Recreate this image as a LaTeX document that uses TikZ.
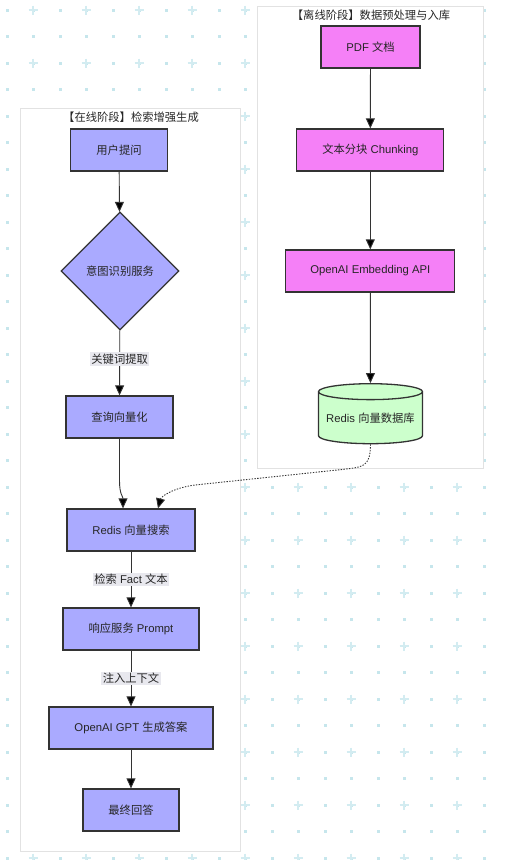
\documentclass[tikz,border=0pt]{standalone}
\usepackage{fontspec}
\setmainfont{Liberation Sans}
\newfontfamily\cjk{Noto Sans CJK SC}
\usetikzlibrary{shapes.geometric,arrows.meta}
\newcommand\zhs[1]{{\cjk #1}}
\definecolor{pur}{HTML}{AAAAFF}
\definecolor{mag}{HTML}{F580F7}
\definecolor{grn}{HTML}{CCFFCC}
\definecolor{edgec}{HTML}{333333}
\definecolor{pat}{HTML}{D3ECF1}
\definecolor{patdot}{HTML}{C6E6EC}
\definecolor{clus}{HTML}{E2E2E2}
\definecolor{lbl}{HTML}{E8E8EE}
\tikzset{
  basefont/.style={font=\fontsize{11.3}{13}\selectfont},
  boxbase/.style={basefont, draw=edgec, line width=1.3pt, minimum height=42pt, inner sep=0pt, text=black!85},
  pbox/.style={boxbase, rectangle, fill=pur},
  mbox/.style={boxbase, rectangle, fill=mag},
  pdia/.style={boxbase, diamond, fill=pur, minimum width=118pt, minimum height=118pt},
  dbshape/.style={boxbase, cylinder, shape border rotate=90, aspect=0.18, fill=grn, minimum width=104pt, minimum height=60pt},
  clusbox/.style={draw=clus, line width=0.8pt, fill=white, inner sep=0pt},
  ctitle/.style={basefont, inner sep=0pt, text=black!85},
  lab/.style={basefont, fill=lbl, inner sep=1.5pt, text=black!85},
  arr/.style={draw=edgec, line width=0.9pt, -{Triangle[length=10pt,width=9pt,fill=black]}},
  dotarr/.style={arr, dash pattern=on 1.4pt off 1.4pt}
}
\begin{document}
\begin{tikzpicture}[x=1pt,y=-1pt]
\useasboundingbox (0,0) rectangle (505,860);
\fill[white] (0,0) rectangle (505,860);
% background pattern
\foreach \i in {0,...,19}{\foreach \j in {0,...,32}{
  \fill[patdot] ({7+26.5*\i-1.5},{10+26.5*\j-1.5}) rectangle ++(3,3);}}
\foreach \m in {0,...,8}{\foreach \k in {0,...,16}{
  \draw[pat, line width=2pt] ({33+53*\m-4.5},{10+53*\k}) -- ++(9,0)
       ({33+53*\m},{10+53*\k-4.5}) -- ++(0,9);}}
% clusters
\node[clusbox, minimum width=226pt, minimum height=462pt] (offline) at (370,237) {};
\node[clusbox, minimum width=220.7pt, minimum height=743pt] (online) at (130.3,479.5) {};
\node[ctitle] (offt) at (371,15.5) {\zhs{【离线阶段】数据预处理与入库}};
\node[ctitle] (ont) at (131,117) {\zhs{【在线阶段】检索增强生成}};
% online nodes
\node[pbox, minimum width=97pt] (ask) at (119,150) {\zhs{用户提问}};
\node[pdia] (intent) at (120,271) {\zhs{意图识别服务}};
\node[pbox, minimum width=107pt] (vec) at (119.5,417) {\zhs{查询向量化}};
\node[pbox, minimum width=128pt] (search) at (131,530) {Redis \zhs{向量搜索}};
\node[pbox, minimum width=136pt] (prompt) at (131,629) {\zhs{响应服务} Prompt};
\node[pbox, minimum width=164pt] (gpt) at (131,728) {OpenAI GPT \zhs{生成答案}};
\node[pbox, minimum width=96pt] (ans) at (131,810) {\zhs{最终回答}};
% offline nodes
\node[mbox, minimum width=99pt] (pdf) at (370.5,47) {PDF \zhs{文档}};
\node[mbox, minimum width=147pt] (chunk) at (370.3,150) {\zhs{文本分块} Chunking};
\node[mbox, minimum width=169pt] (emb) at (370.3,271) {OpenAI Embedding API};
\node[dbshape] (db) at (370.5,418) {Redis \zhs{向量数据库}};
% edges
\draw[arr] (ask) -- (intent);
\draw[arr] (intent) -- node[lab, pos=0.44]{\zhs{关键词提取}} (vec);
\draw[arr] (vec.south) -- ++(0,42) .. controls ++(0,14) and ++(0,-12) .. ([xshift=-8pt]search.north);
\draw[arr] (search) -- node[lab]{\zhs{检索} Fact \zhs{文本}} (prompt);
\draw[arr] (prompt) -- node[lab]{\zhs{注入上下文}} (gpt);
\draw[arr] (gpt) -- (ans);
\draw[arr] (pdf) -- (chunk);
\draw[arr] (chunk) -- (emb);
\draw[arr] (emb) -- (db);
\draw[dotarr] (db.south) .. controls (370.5,468) and (362,467) .. (342,469.5)
   -- (195,485) .. controls (172,488) and (161,497) .. ([xshift=27pt]search.north);
\end{tikzpicture}
\end{document}
